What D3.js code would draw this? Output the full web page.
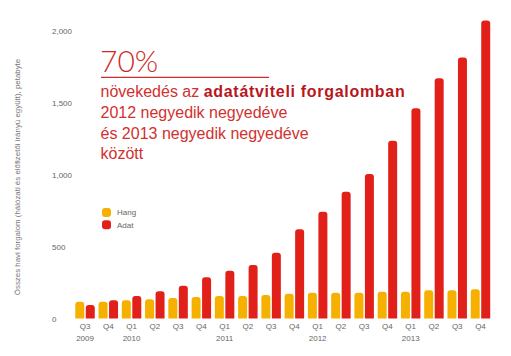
<!DOCTYPE html>
<html><head><meta charset="utf-8">
<script src="https://cdn.jsdelivr.net/npm/d3@7"></script>
<style>
html,body{margin:0;padding:0;background:#fff;}
svg{display:block;font-family:"Liberation Sans",Arial,Helvetica,sans-serif;}
</style></head>
<body>
<svg id="chart" width="511" height="356"></svg>
<script>
const quarters = ["Q3","Q4","Q1","Q2","Q3","Q4","Q1","Q2","Q3","Q4","Q1","Q2","Q3","Q4","Q1","Q2","Q3","Q4"];
const years = ["2009","","2010","","","","2011","","","","2012","","","","2013","","",""];
const hang = [117,117,126,133,142,149,156,156,163,172,179,179,179,186,186,196,196,203];
const adat = [94,126,156,189,228,286,332,372,457,620,741,880,1003,1235,1460,1668,1813,2069];
const seriesNames = ["Hang","Adat"];
const seriesColors = ["#f6b100","#e1201a"];
const yTicks = [0,500,1000,1500,2000];
const yTitle = "Összes havi forgalom (hálózati és előfizetői irányú együtt), petabyte";
const headline = "70%";
const calloutLines = [
  [["növekedés az ",false],["adatátviteli forgalomban",true]],
  [["2012 negyedik negyedéve",false]],
  [["és 2013 negyedik negyedéve",false]],
  [["között",false]]
];

const svg = d3.select("#chart");
const ids = quarters.map((q,i)=>i);
const x0 = d3.scaleBand().domain(ids).range([73.4, 492.1]).padding(0);
const x1 = d3.scaleBand().domain(seriesNames).range([0, x0.bandwidth()]).paddingInner(0.143).paddingOuter(0.18);
const y = d3.scaleLinear().domain([0,2000]).range([318.5, 30.5]);

const data = ids.map(i=>({i, values:[hang[i], adat[i]]}));

function topRounded(x, yTop, w, h, r){
  r = Math.min(r, h, w/2);
  return `M${x},${yTop+h}V${yTop+r}Q${x},${yTop} ${x+r},${yTop}H${x+w-r}Q${x+w},${yTop} ${x+w},${yTop+r}V${yTop+h}Z`;
}

const g = svg.append("g");
g.selectAll("g.grp").data(data).join("g").attr("class","grp")
  .attr("transform", d=>`translate(${x0(d.i)},0)`)
  .selectAll("path").data(d=>d.values.map((v,k)=>({v,k})))
  .join("path")
  .attr("fill", d=>seriesColors[d.k])
  .attr("d", d=>topRounded(x1(seriesNames[d.k]), y(d.v), x1.bandwidth(), y(0)-y(d.v), 3));

// y axis labels (no line)
const yAxis = d3.axisLeft(y).tickValues(yTicks).tickFormat(d3.format(",")).tickSize(0).tickPadding(0);
const ya = svg.append("g").attr("transform","translate(52,0)").call(yAxis);
ya.select(".domain").remove();
ya.selectAll("text").attr("text-anchor","start").attr("fill","#666").attr("font-size","8px")
  .attr("font-family","Liberation Sans, Arial, sans-serif");

// x axis labels
const xAxis = d3.axisBottom(x0).tickFormat(i=>quarters[i]).tickSize(0).tickPadding(0);
const xa = svg.append("g").attr("transform","translate(0,323)").call(xAxis);
xa.select(".domain").remove();
xa.selectAll("text").attr("fill","#666").attr("font-size","8px").attr("dy","0.71em")
  .attr("font-family","Liberation Sans, Arial, sans-serif");
xa.selectAll(".tick").append("text")
  .attr("fill","#666").attr("font-size","8px").attr("y",17.5)
  .attr("text-anchor","middle")
  .attr("font-family","Liberation Sans, Arial, sans-serif")
  .text(i=>years[i]);

// y title
svg.append("text")
  .attr("transform","translate(20,177) rotate(-90)")
  .attr("text-anchor","middle").attr("fill","#777").attr("font-size","7.9px")
  .text(yTitle);

// legend
const leg = svg.append("g").attr("transform","translate(102,208)");
seriesNames.forEach((s,k)=>{
  const row = leg.append("g").attr("transform",`translate(0,${k*12.3})`);
  row.append("rect").attr("width",9).attr("height",9).attr("rx",3).attr("fill",seriesColors[k]);
  row.append("text").attr("x",15).attr("y",4.5).attr("dy","0.35em").attr("fill","#666").attr("font-size","8px").text(s);
});

// callout
svg.append("text").attr("x",100).attr("y",71.5).attr("fill","#cf2a2a")
  .attr("font-family","Lato, 'Liberation Sans', sans-serif")
  .attr("font-size","30px").attr("font-weight","300").text(headline);
svg.append("line").attr("x1",101).attr("x2",269).attr("y1",77.3).attr("y2",77.3)
  .attr("stroke","#cf2a2a").attr("stroke-width",1.2);
const baselines = [97,118,138.5,159];
calloutLines.forEach((parts,li)=>{
  const t = svg.append("text").attr("x",100.5).attr("y",baselines[li]).attr("font-size","16px");
  parts.forEach(([txt,bold])=>{
    t.append("tspan").attr("fill", bold ? "#b8161c" : "#d1312f")
      .attr("font-weight", bold ? "bold" : "normal")
      .attr("letter-spacing", bold ? "0.7px" : null).text(txt);
  });
});
</script>
</body></html>
